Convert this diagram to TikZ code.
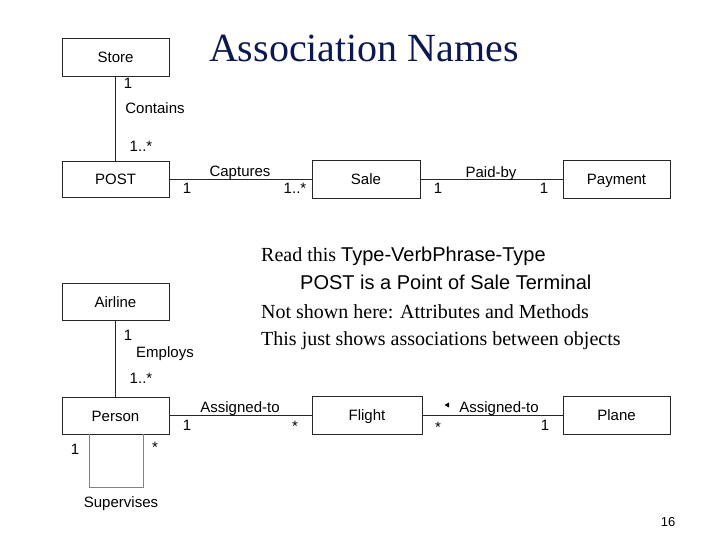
\documentclass[tikz,border=0pt]{standalone}
\usepackage{fontspec}
\setmainfont{Liberation Serif}
\newfontfamily\arial{Liberation Sans}
\definecolor{titleblue}{RGB}{12,24,80}
\definecolor{loopgray}{RGB}{130,130,130}
\begin{document}
\begin{tikzpicture}[x=1pt,y=-1pt,
  cls/.style={draw=black!85,line width=0.9pt,minimum width=107pt,minimum height=38pt,inner sep=0pt,text height=11pt,text depth=0pt,font=\arial\fontsize{15}{17}\selectfont},
  assoc/.style={line width=0.9pt,black!85},
  lbl/.style={inner sep=0pt,text height=11pt,text depth=0pt,font=\arial\fontsize{15}{17}\selectfont},
  txt/.style={inner sep=0pt,anchor=west,text height=14pt,text depth=4pt,font=\fontsize{20}{22}\selectfont}]
\useasboundingbox (0,0) rectangle (720,540);
% title
\node[inner sep=0pt,text=titleblue,font=\fontsize{40}{44}\selectfont] (title) at (364,48) {Association Names};
% classes
\node[cls] (store) at (115.5,57) {Store};
\node[cls,minimum height=36pt] (post) at (115.5,179) {POST};
\node[cls,minimum width=108pt] (sale) at (366,179) {Sale};
\node[cls] (payment) at (616.5,179) {Payment};
\node[cls,minimum height=37pt] (airline) at (115.5,301.5) {Airline};
\node[cls,minimum height=37pt] (person) at (115.5,415.5) {Person};
\node[cls,minimum width=110pt] (flight) at (367,415) {Flight};
\node[cls] (plane) at (616.5,415) {Plane};
% associations
\draw[assoc] (store.south) -- (post.north);
\draw[assoc] (post.east) -- (sale.west);
\draw[assoc] (sale.east) -- (payment.west);
\draw[assoc] (airline.south) -- (person.north);
\draw[assoc] (person.east |- flight.west) -- (flight.west);
\draw[assoc] (flight.east) -- (plane.west);
\coordinate (sl1) at (89,487);
\coordinate (sl2) at (143,487);
\draw[loopgray,line width=0.9pt] (person.south -| sl1) -- (sl1) -- (sl2) -- (person.south -| sl2);
% labels upper
\node[lbl] (l1) at (128,83) {1};
\node[lbl] (l2) at (155,108) {Contains};
\node[lbl] (l3) at (141,146) {1..*};
\node[lbl] (l4) at (187,188) {1};
\node[lbl] (l5) at (240,171) {Captures};
\node[lbl] (l6) at (295,188) {1..*};
\node[lbl] (l7) at (491,172) {Paid-by};
\node[lbl] (l8) at (438,188) {1};
\node[lbl] (l9) at (544,188) {1};
% labels lower
\node[lbl] (m1) at (128,335) {1};
\node[lbl] (m2) at (165,352) {Employs};
\node[lbl] (m3) at (141,378) {1..*};
\node[lbl] (m4) at (187,425) {1};
\node[lbl] (m5) at (240,407) {Assigned-to};
\node[lbl] (m6) at (295,426) {*};
\node[lbl] (m7) at (438,427) {*};
\node[lbl] (m8) at (545,425) {1};
\node[lbl] (m9) at (499,407) {Assigned-to};
\fill (444.5,405) -- (449,402.5) -- (449,407.5) -- cycle;
\node[lbl] (n1) at (75,449) {1};
\node[lbl] (n2) at (155,447) {*};
\node[lbl] (n3) at (121,502) {Supervises};
% text block
\node[txt] (t1) at (261,256) {Read this {\arial Type-VerbPhrase-Type}};
\node[txt] (t2) at (300,284) {\arial POST is a Point of Sale Terminal};
\node[txt] (t3) at (261,313) {Not shown here: Attributes and Methods};
\node[txt] (t4) at (261,340) {This just shows associations between objects};
\node[inner sep=0pt,font=\arial\fontsize{13}{15}\selectfont] (pg) at (668,522) {16};
\end{tikzpicture}
\end{document}
